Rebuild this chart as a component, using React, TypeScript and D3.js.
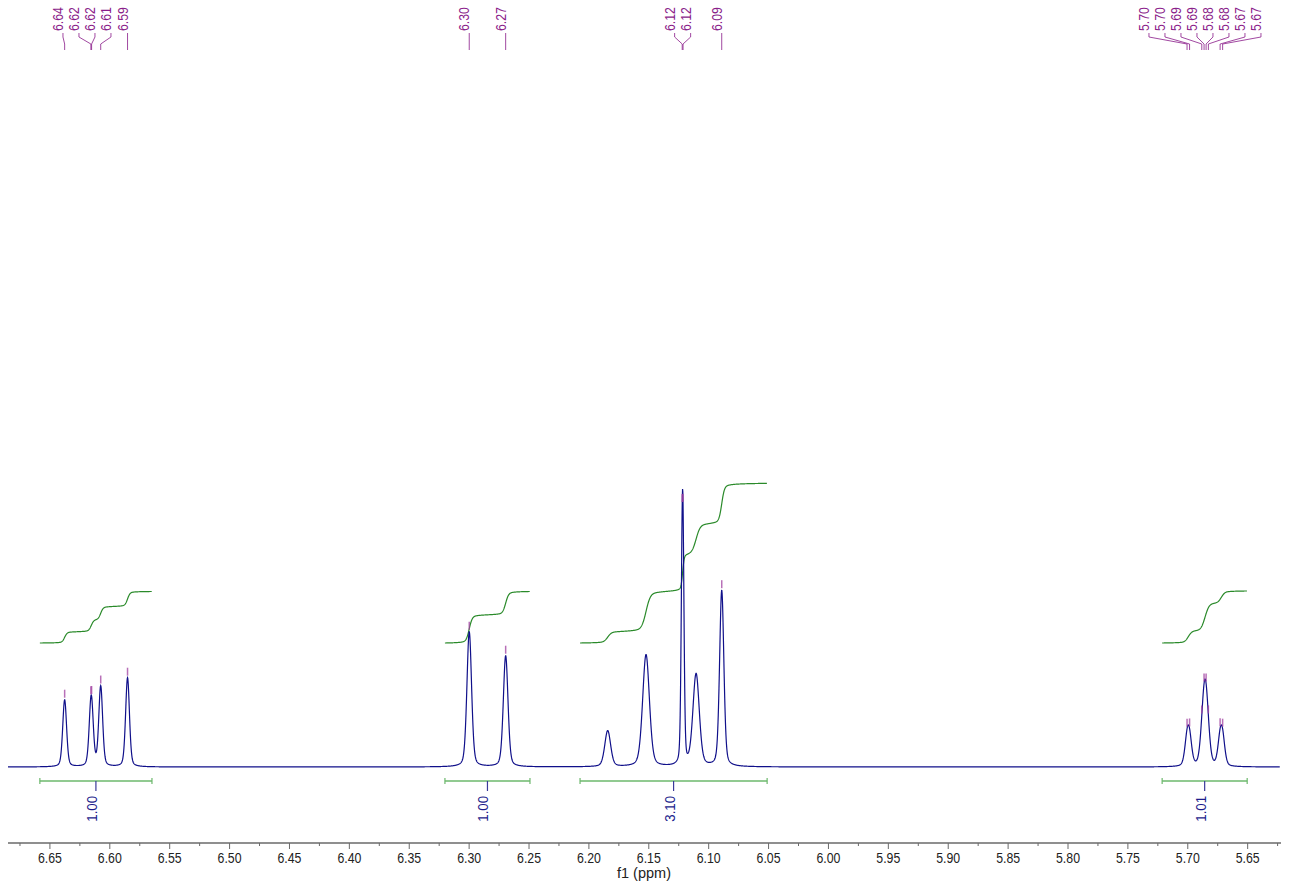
import React, { useMemo } from "react";
import * as d3 from "d3";

const WIDTH = 1289;
const HEIGHT = 886;

// Resonance lines: chemical shift (ppm), intensity, full width at half height (ppm)
const lineShift = [
  6.6377, 6.6158, 6.6152, 6.6076, 6.5852,
  6.2999, 6.2695,
  6.1843, 6.1523, 6.1221, 6.1214, 6.1105, 6.0891,
  5.7006, 5.6985, 5.6883, 5.6864, 5.6847, 5.6828, 5.673, 5.6709,
];
const lineHeight = [
  67, 36, 36, 80, 89,
  135, 111,
  36, 112, 148, 148, 92, 176,
  24, 24, 15, 42, 42, 15, 24, 24,
];
const lineWidth = [
  0.0038, 0.0038, 0.0038, 0.0038, 0.0038,
  0.0046, 0.0046,
  0.0058, 0.0067, 0.0023, 0.0023, 0.0063, 0.0042,
  0.0046, 0.0046, 0.0046, 0.0046, 0.0046, 0.0046, 0.0046, 0.0046,
];
const linePicked = [
  true, true, true, true, true,
  true, true,
  false, false, true, true, false, true,
  true, true, true, true, true, true, true, true,
];

// Integrated regions (ppm) and their normalized integrals
const integralStart = [6.6584, 6.3202, 6.2074, 5.7214];
const integralEnd = [6.5648, 6.2492, 6.0512, 5.6504];
const integralValue = [1.0, 1.0, 3.1, 1.01];

// Axis tick labels (ppm)
const tickLabels = [
  "6.65", "6.60", "6.55", "6.50", "6.45", "6.40", "6.35", "6.30", "6.25", "6.20", "6.15",
  "6.10", "6.05", "6.00", "5.95", "5.90", "5.85", "5.80", "5.75", "5.70", "5.65",
];

const LORENTZ_FRACTION = 0.3;
const FONT = "'Liberation Sans', Arial, sans-serif";
const NARROW = 0.85;

const SPECTRUM_COLOR = "#10108a";
const PEAK_COLOR = "#8a1c8a";
const INTEGRAL_COLOR = "#2a8a2a";
const BAR_COLOR = "#6cb86c";
const AXIS_COLOR = "#6a6a6a";

function intensityAt(ppm: number): number {
  let s = 0;
  for (let i = 0; i < lineShift.length; i++) {
    const d = (ppm - lineShift[i]) / lineWidth[i];
    const lor = 1 / (1 + 4 * d * d);
    const gau = Math.exp(-4 * Math.LN2 * d * d);
    s += lineHeight[i] * (LORENTZ_FRACTION * lor + (1 - LORENTZ_FRACTION) * gau);
  }
  return s;
}

// Spread label positions so neighbours keep at least `gap` pixels apart.
function spreadLabels(xs: number[], gap: number): number[] {
  const order = xs.map((_, i) => i).sort((a, b) => xs[a] - xs[b]);
  const clusters: { idx: number[]; center: number }[] = [];
  for (const i of order) {
    clusters.push({ idx: [i], center: xs[i] });
    while (clusters.length > 1) {
      const b = clusters[clusters.length - 1];
      const a = clusters[clusters.length - 2];
      const aRight = a.center + ((a.idx.length - 1) * gap) / 2;
      const bLeft = b.center - ((b.idx.length - 1) * gap) / 2;
      if (bLeft - aRight >= gap) break;
      const idx = a.idx.concat(b.idx);
      const center = d3.mean(idx, (j) => xs[j]) as number;
      clusters.splice(clusters.length - 2, 2, { idx, center });
    }
  }
  const out: number[] = new Array(xs.length);
  clusters.forEach((c) =>
    c.idx.forEach((j, k) => {
      out[j] = c.center + (k - (c.idx.length - 1) / 2) * gap;
    })
  );
  return out;
}

export default function App() {
  const x = d3.scaleLinear().domain([6.685, 5.623]).range([8, 1280]);
  const y = d3.scaleLinear().domain([0, 300]).range([767, 467]);
  const yInt = d3.scaleLinear().domain([0, 1]).range([643, 591.5]);

  const axisY = 843;
  const barY = 781;

  const spectrum = useMemo(() => {
    const pts: [number, number][] = [];
    const [a, b] = x.domain();
    const step = 0.0002;
    for (let p = a; p >= b; p -= step) pts.push([p, intensityAt(p)]);
    return pts;
  }, []);

  const line = d3
    .line<[number, number]>()
    .x((d) => x(d[0]))
    .y((d) => y(d[1]));

  const integrals = integralStart.map((from, r) => {
    const to = integralEnd[r];
    const step = 0.0002;
    const pts: [number, number][] = [];
    let acc = 0;
    let prev = intensityAt(from);
    pts.push([from, 0]);
    for (let p = from - step; p >= to; p -= step) {
      const cur = intensityAt(p);
      acc += ((prev + cur) / 2) * step;
      pts.push([p, acc]);
      prev = cur;
    }
    const total = acc;
    return pts.map(([p, v]) => [p, (v / total) * integralValue[r]] as [number, number]);
  });

  const intLine = d3
    .line<[number, number]>()
    .x((d) => x(d[0]))
    .y((d) => yInt(d[1]));

  const picked = lineShift.filter((_, i) => linePicked[i]);
  const pickedX = picked.map((s) => x(s));
  const labelX = spreadLabels(pickedX, 16);

  const majorTicks = tickLabels.map((t) => +t);
  const [dHi, dLo] = x.domain();
  const minorTicks = Array.from(
    new Set(
      majorTicks.flatMap((v) => [+(v + 0.025).toFixed(3), +(v - 0.025).toFixed(3)])
    )
  ).filter((v) => v <= dHi && v >= dLo);

  return (
    <svg
      width={WIDTH}
      height={HEIGHT}
      style={{ position: "absolute", left: 0, top: 0, background: "#fff" }}
      fontFamily={FONT}
    >
      {/* peak labels */}
      <g>
        {picked.map((s, k) => {
          const lx = labelX[k];
          const px = pickedX[k];
          return (
            <g key={k}>
              <text
                transform={`translate(${lx},31) rotate(-90) scale(${NARROW},1)`}
                textAnchor="start"
                fontSize={14.5}
                fill={PEAK_COLOR}
              >
                {s.toFixed(2)}
              </text>
              <path
                d={`M${lx},33 V37 L${px},44 V50`}
                fill="none"
                stroke={PEAK_COLOR}
                strokeOpacity={0.8}
                strokeWidth={1}
              />
            </g>
          );
        })}
      </g>

      {/* integral curves */}
      <g>
        {integrals.map((pts, r) => (
          <path key={r} d={intLine(pts) || ""} fill="none" stroke={INTEGRAL_COLOR} strokeWidth={1.2} />
        ))}
      </g>

      {/* spectrum */}
      <path d={line(spectrum) || ""} fill="none" stroke={SPECTRUM_COLOR} strokeWidth={1.2} />

      {/* peak markers */}
      <g>
        {picked.map((s, k) => {
          const top = y(intensityAt(s));
          return (
            <line
              key={k}
              x1={pickedX[k]}
              x2={pickedX[k]}
              y1={top - 10}
              y2={top - 2}
              stroke="#a040a0"
              strokeOpacity={0.75}
              strokeWidth={1.5}
            />
          );
        })}
      </g>

      {/* integration bars */}
      <g>
        {integralStart.map((from, r) => {
          const x0 = x(from);
          const x1 = x(integralEnd[r]);
          const mx = (x0 + x1) / 2;
          return (
            <g key={r}>
              <line x1={x0} x2={x1} y1={barY} y2={barY} stroke={BAR_COLOR} strokeWidth={1.5} />
              <line x1={x0} x2={x0} y1={barY - 3} y2={barY + 3} stroke={BAR_COLOR} strokeWidth={1.2} />
              <line x1={x1} x2={x1} y1={barY - 3} y2={barY + 3} stroke={BAR_COLOR} strokeWidth={1.2} />
              <line x1={mx} x2={mx} y1={barY} y2={barY + 10} stroke="#3a3a9a" strokeWidth={1.2} />
              <text
                transform={`translate(${mx + 1},796) rotate(-90) scale(${NARROW},1)`}
                textAnchor="end"
                fontSize={15.5}
                fill="#1c1c8c"
              >
                {integralValue[r].toFixed(2)}
              </text>
            </g>
          );
        })}
      </g>

      {/* x axis */}
      <g>
        <line x1={8} x2={1281} y1={axisY} y2={axisY} stroke={AXIS_COLOR} strokeWidth={1.5} />
        {majorTicks.map((v, i) => (
          <g key={i}>
            <line x1={x(v)} x2={x(v)} y1={axisY} y2={axisY + 6} stroke={AXIS_COLOR} strokeWidth={1} />
            <text
              transform={`translate(${x(v)},863) scale(${NARROW},1)`}
              textAnchor="middle"
              fontSize={14.5}
              fill="#222"
            >
              {tickLabels[i]}
            </text>
          </g>
        ))}
        {minorTicks.map((v, i) => (
          <line key={i} x1={x(v)} x2={x(v)} y1={axisY} y2={axisY + 3} stroke={AXIS_COLOR} strokeWidth={1} />
        ))}
        <text x={644} y={878} textAnchor="middle" fontSize={14.5} fill="#222">
          f1 (ppm)
        </text>
      </g>
    </svg>
  );
}
